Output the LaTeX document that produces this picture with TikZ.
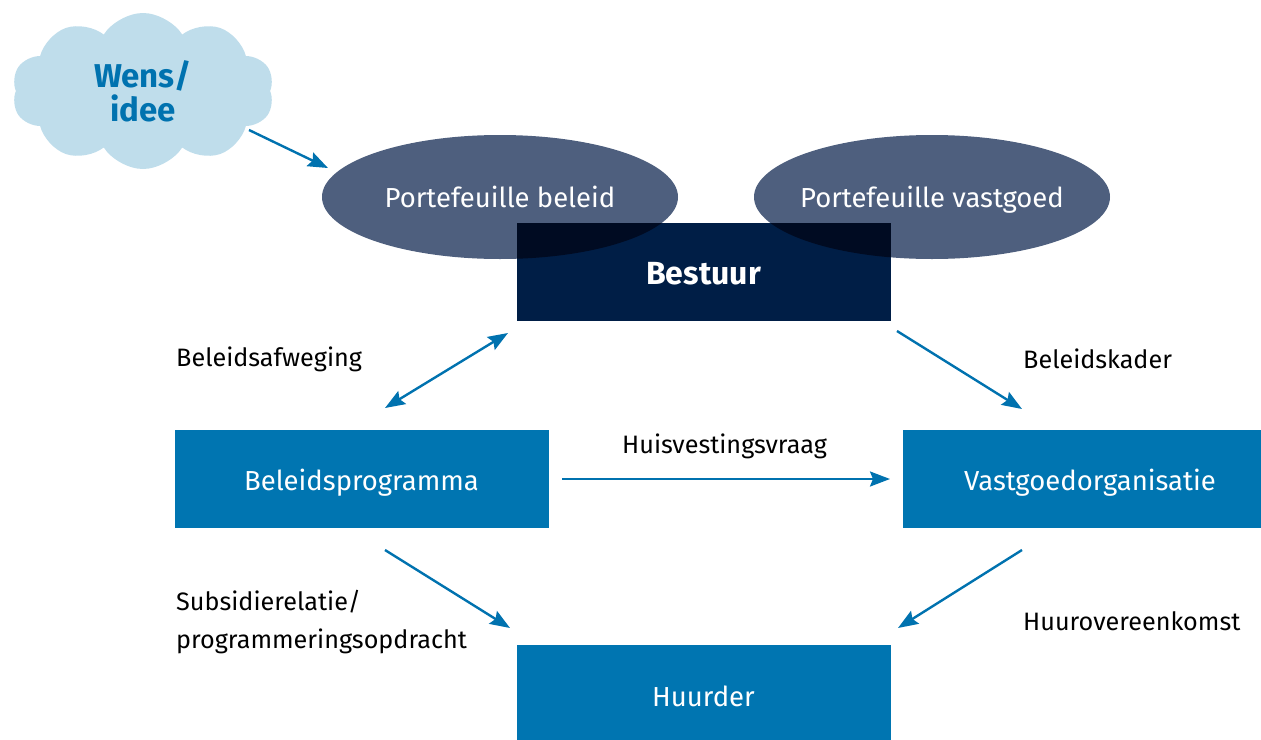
\documentclass[tikz,border=0pt]{standalone}
\usepackage{fontspec}
\setmainfont{Fira Sans}
\usetikzlibrary{shapes.symbols,shapes.geometric,arrows.meta}
\definecolor{cloudc}{HTML}{BFDDEB}
\definecolor{ellc}{HTML}{4E5F7E}
\definecolor{navy}{HTML}{001E46}
\definecolor{bluebox}{HTML}{0075B1}
\definecolor{arrc}{HTML}{0072AF}
\begin{document}
\begin{tikzpicture}[x=1pt,y=-1pt,
  blbox/.style={fill=bluebox,text=white,minimum width=374pt,minimum height=98pt,inner sep=0pt,text height=24pt,text depth=0pt,font=\fontsize{27.5}{32}\selectfont},
  ell/.style={ellipse,fill=ellc,text=white,minimum width=356pt,minimum height=124pt,inner xsep=-40pt,inner ysep=0pt,text height=20pt,text depth=0pt,font=\fontsize{27.5}{32}\selectfont},
  lbl/.style={anchor=west,inner sep=0pt,font=\fontsize{25.2}{38}\selectfont,align=left},
  arr/.style={draw=arrc,line width=2.4pt,-{Stealth[length=20pt,width=15pt,inset=3pt]}},
  darr/.style={arr,{Stealth[length=20pt,width=15pt,inset=3pt]}-{Stealth[length=20pt,width=15pt,inset=3pt]}}
]
\useasboundingbox (0,0) rectangle (1261,739);
\node[cloud,cloud puffs=10,cloud puff arc=115,aspect=1.65,fill=cloudc,minimum width=262pt,minimum height=156pt,inner sep=0pt,text=arrc,align=center,font=\bfseries\fontsize{33}{38}\selectfont] (wens) at (143,91) {\raisebox{-4pt}{Wens/}\\[0pt]idee};
\node[ell] (pb) at (500,197) {Portefeuille beleid};
\node[ell] (pv) at (932,197) {Portefeuille vastgoed};
\begin{scope}[blend mode=multiply]
\node[fill=navy,minimum width=374pt,minimum height=98pt,inner sep=0pt] (bestuur) at (703.5,272) {};
\end{scope}
\node[text=white,inner sep=0pt,text height=24pt,text depth=0pt,font=\bfseries\fontsize{32}{36}\selectfont] (bestuurtxt) at (bestuur.center) {Bestuur};
\node[blbox] (bp) at (361.5,478.5) {Beleidsprogramma};
\node[blbox] (vo) at (1090,478.5) {Vastgoedorganisatie};
\node[blbox] (hu) at (703.5,694) {Huurder};
\coordinate (w1) at (249,130); \coordinate (w2) at (328,168);
\draw[arr] (w1) -- (w2);
\coordinate (a1) at (385,408); \coordinate (a2) at (508,333);
\draw[darr] (a1) -- (a2);
\coordinate (b1) at (897,331); \coordinate (b2) at (1022,409);
\draw[arr] (b1) -- (b2);
\coordinate (c1) at (562,479); \coordinate (c2) at (890,479);
\draw[arr] (c1) -- (c2);
\coordinate (d1) at (385,550); \coordinate (d2) at (510,628);
\draw[arr] (d1) -- (d2);
\coordinate (e1) at (1022,550); \coordinate (e2) at (898,628);
\draw[arr] (e1) -- (e2);
\node[lbl] (l1) at (176,359) {Beleidsafweging};
\node[lbl] (l2) at (1023,359) {Beleidskader};
\node[lbl] (l3) at (622,446) {Huisvestingsvraag};
\node[lbl] (l4) at (176,622) {Subsidierelatie/\\programmeringsopdracht};
\node[lbl] (l5) at (1023,621) {Huurovereenkomst};
\end{tikzpicture}
\end{document}
